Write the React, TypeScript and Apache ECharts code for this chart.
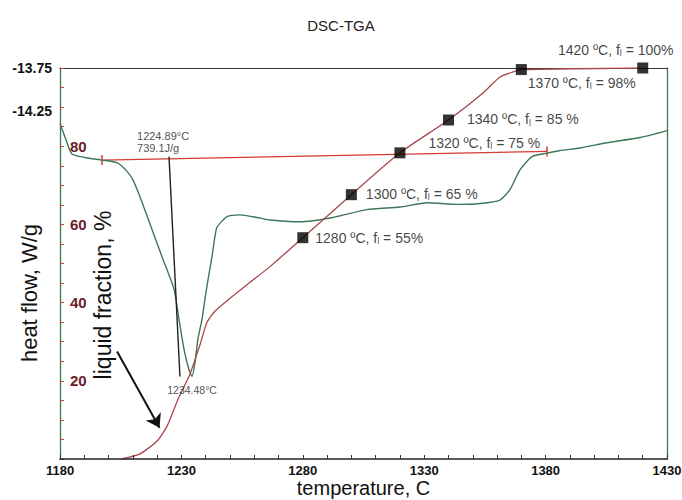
import React, { useEffect, useRef } from 'react';
import * as echarts from 'echarts';

const FONT = '"Liberation Sans", Arial, Helvetica, sans-serif';
const GREEN = '#3f7656';
const BROWN_RED = '#a8474b';
const RED = '#d23a34';
const MAROON = '#6b1d2b';

const title = 'DSC-TGA';
const xMin = 1180;
const xMax = 1430;
const xTickLabels = [1180, 1230, 1280, 1330, 1380, 1430];
const fractionTickLabels = [20, 40, 60, 80];
const heatFlowTickLabels = [-13.75, -14.25];

// DSC heat flow curve (W/g)
const heatFlowT = [1180, 1182.5, 1184.9, 1190.3, 1197.3, 1203.5, 1207.6, 1210.1, 1212.9, 1217.9, 1222.4, 1227.0, 1229.0, 1231.1, 1233.1, 1234.4, 1235.6, 1236.8, 1238.5, 1239.7, 1241.0, 1242.6, 1243.8, 1244.7, 1248.8, 1254.1, 1261.1, 1266.5, 1278.8, 1292.4, 1306.4, 1320.0, 1331.2, 1343.5, 1353.0, 1361.2, 1365.3, 1369.5, 1374.4, 1380.6, 1386.0, 1394.2, 1405.3, 1418.9, 1430];
const heatFlowW = [-14.39, -14.58, -14.74, -14.78, -14.81, -14.84, -14.94, -15.04, -15.23, -15.61, -15.95, -16.30, -16.64, -16.99, -17.22, -17.30, -17.14, -16.87, -16.64, -16.41, -16.18, -15.92, -15.69, -15.58, -15.46, -15.44, -15.47, -15.50, -15.52, -15.47, -15.38, -15.35, -15.30, -15.32, -15.31, -15.27, -15.15, -14.92, -14.77, -14.73, -14.70, -14.67, -14.61, -14.55, -14.47];

// liquid fraction curve (%)
const fractionT = [1205.5, 1212.9, 1220.0, 1224.1, 1228.6, 1233.5, 1237.7, 1240.5, 1243.8, 1250.0, 1258.3, 1266.5, 1280, 1300, 1320, 1340, 1354.2, 1361.2, 1366.6, 1370, 1420];
const fractionF = [0, 1.3, 4.6, 8.4, 15.3, 21.7, 29.3, 34.9, 37.8, 41.1, 45.2, 49.2, 56.6, 67.6, 78.3, 86.7, 93.6, 97.7, 99.0, 99.6, 100];

// labelled points
const markerT = [1280, 1300, 1320, 1340, 1370, 1420];
const markerF = [56.6, 67.6, 78.3, 86.7, 99.6, 100];
const markerLabelF = ['55%', '65 %', '75 %', '85 %', '98%', '100%'];

// DSC baseline and peak line (W/g)
const baselineT = [1197.3, 1380.6];
const baselineW = [-14.81, -14.71];
const peakLineT = [1224.9, 1229.4];
const peakLineW = [-14.77, -17.30];
const peakLabel = ['1224.89°C', '739.1J/g'];
const minLabel = '1234.48°C';

// arrow (liquid fraction axis)
const arrowT = [1203.5, 1221.0];
const arrowF = [27.5, 8.0];

const markerLabelOffsets: [number, number][] = [
  [2, 0],
  [4, -1],
  [18, -10],
  [8, -1],
  [-4, 13],
  [-27, 0],
];
const markerLabelPositions = ['right', 'right', 'right', 'right', 'right', 'top'];

export default function App() {
  const ref = useRef<HTMLDivElement>(null);

  useEffect(() => {
    document.body.style.margin = '0';
    if (!ref.current) return;
    const chart = echarts.init(ref.current, undefined, { renderer: 'svg' });

    const minIdx = heatFlowW.indexOf(Math.min(...heatFlowW));

    const option: any = {
      animation: false,
      backgroundColor: '#ffffff',
      title: {
        text: title,
        left: 'center',
        top: 13,
        textStyle: { fontFamily: FONT, fontSize: 15, fontWeight: 'normal', color: '#222' },
      },
      grid: {
        left: 60,
        right: 15,
        top: 68,
        bottom: 41,
        containLabel: false,
        outerBoundsMode: 'none',
      },
      xAxis: [
        {
          type: 'value',
          position: 'bottom',
          min: xMin,
          max: xMax,
          interval: 10,
          name: 'temperature, C',
          nameLocation: 'middle',
          nameGap: 19,
          nameMoveOverlap: false,
          nameTextStyle: { fontFamily: FONT, fontSize: 20, color: '#111' },
          axisLine: { show: true, onZero: false, lineStyle: { color: '#222', width: 1.5 } },
          axisTick: { show: true, inside: true, length: 4, lineStyle: { color: '#333', width: 1 } },
          axisLabel: {
            margin: 5,
            fontFamily: FONT,
            fontSize: 13,
            fontWeight: 'bold',
            color: '#111',
            formatter: (v: number) => (xTickLabels.includes(v) ? String(v) : ''),
          },
          splitLine: { show: false },
          z: 10,
        },
        {
          type: 'value',
          min: xMin,
          max: xMax,
          position: 'top',
          axisLine: { show: true, onZero: false, lineStyle: { color: '#333', width: 1.2 } },
          axisTick: { show: false },
          axisLabel: { show: false },
          splitLine: { show: false },
        },
      ],
      yAxis: [
        {
          type: 'value',
          min: 0,
          max: 100,
          interval: 5,
          position: 'left',
          axisLine: { show: true, onZero: false, lineStyle: { color: GREEN, width: 1.3 } },
          axisTick: { show: true, inside: true, length: 4, lineStyle: { color: RED } },
          axisLabel: {
            inside: true,
            margin: 10,
            fontFamily: FONT,
            fontSize: 15,
            fontWeight: 'bold',
            color: MAROON,
            formatter: (v: number) => (fractionTickLabels.includes(v) ? String(v) : ''),
          },
          splitLine: { show: false },
        },
        {
          type: 'value',
          min: -18.25,
          max: -13.75,
          interval: 0.25,
          position: 'left',
          axisLine: { show: false, onZero: false },
          axisTick: { show: false },
          axisLabel: {
            margin: 8,
            fontFamily: FONT,
            fontSize: 14,
            fontWeight: 'bold',
            color: '#111',
            formatter: (v: number) =>
              heatFlowTickLabels.some((t) => Math.abs(t - v) < 1e-6) ? v.toFixed(2) : '',
          },
          splitLine: { show: false },
        },
        {
          type: 'value',
          min: 0,
          max: 100,
          position: 'right',
          axisLine: { show: true, onZero: false, lineStyle: { color: GREEN, width: 1.3 } },
          axisTick: { show: false },
          axisLabel: { show: false },
          splitLine: { show: false },
        },
      ],
      series: [
        {
          name: 'heat flow',
          type: 'line',
          xAxisIndex: 0,
          yAxisIndex: 1,
          data: heatFlowT.map((t, i) => [t, heatFlowW[i]]),
          symbol: 'none',
          smooth: 0.2,
          lineStyle: { color: GREEN, width: 1.4 },
          silent: true,
          z: 3,
        },
        {
          name: 'DSC baseline',
          type: 'line',
          xAxisIndex: 0,
          yAxisIndex: 1,
          data: baselineT.map((t, i) => [t, baselineW[i]]),
          symbol: 'rect',
          symbolSize: [1.5, 10],
          showSymbol: true,
          itemStyle: { color: RED },
          lineStyle: { color: RED, width: 1.2 },
          silent: true,
          z: 2,
        },
        {
          name: 'peak line',
          type: 'line',
          xAxisIndex: 0,
          yAxisIndex: 1,
          data: peakLineT.map((t, i) => [t, peakLineW[i]]),
          symbol: 'none',
          lineStyle: { color: '#222', width: 1.4 },
          silent: true,
          z: 4,
        },
        {
          name: 'liquid fraction',
          type: 'line',
          xAxisIndex: 0,
          yAxisIndex: 0,
          data: fractionT.map((t, i) => [t, fractionF[i]]),
          symbol: 'none',
          smooth: 0.2,
          lineStyle: { color: BROWN_RED, width: 1.3 },
          silent: true,
          z: 4,
          markLine: {
            silent: true,
            symbol: ['none', 'arrow'],
            symbolSize: 13,
            label: { show: false },
            lineStyle: { color: '#111', width: 2, type: 'solid' },
            data: [
              [
                { coord: [arrowT[0], arrowF[0]] },
                { coord: [arrowT[1], arrowF[1]] },
              ],
            ],
          },
        },
        {
          name: 'markers',
          type: 'scatter',
          xAxisIndex: 0,
          yAxisIndex: 0,
          symbol: 'rect',
          symbolSize: 11,
          itemStyle: { color: '#000' },
          silent: true,
          z: 6,
          data: markerT.map((t, i) => ({
            value: [t, markerF[i]],
            label: {
              show: true,
              position: markerLabelPositions[i],
              distance: 5,
              offset: markerLabelOffsets[i],
              formatter: `{a|${t} ºC, f}{s|l}{a| = ${markerLabelF[i]}}`,
              rich: {
                a: { fontFamily: FONT, fontSize: 14, lineHeight: 16, color: '#111' },
                s: { fontFamily: FONT, fontSize: 9, lineHeight: 6, color: '#111', verticalAlign: 'bottom' },
              },
            },
          })),
        },
        {
          name: 'annotations',
          type: 'scatter',
          xAxisIndex: 0,
          yAxisIndex: 1,
          symbolSize: 1,
          itemStyle: { color: 'rgba(0,0,0,0)' },
          silent: true,
          z: 7,
          data: [
            {
              value: [peakLineT[0], peakLineW[0]],
              label: {
                show: true,
                position: 'top',
                distance: 2,
                align: 'left',
                offset: [-32, 0],
                formatter: peakLabel.join('\n'),
                fontFamily: FONT,
                fontSize: 11,
                lineHeight: 12,
                color: '#222',
              },
            },
            {
              value: [heatFlowT[minIdx], heatFlowW[minIdx]],
              label: {
                show: true,
                position: 'bottom',
                distance: 8,
                formatter: minLabel,
                fontFamily: FONT,
                fontSize: 10.5,
                color: '#222',
              },
            },
          ],
        },
      ],
      graphic: [
        {
          type: 'text',
          x: 29,
          y: 293,
          rotation: Math.PI / 2,
          style: {
            text: 'heat flow, W/g',
            font: `22px ${FONT}`,
            fill: '#111',
            textAlign: 'center',
            textVerticalAlign: 'middle',
          },
        },
        {
          type: 'text',
          x: 103,
          y: 295,
          rotation: Math.PI / 2,
          style: {
            text: 'liquid fraction, %',
            font: `23px ${FONT}`,
            fill: '#111',
            textAlign: 'center',
            textVerticalAlign: 'middle',
          },
        },
      ],
    };

    chart.setOption(option);
    return () => chart.dispose();
  }, []);

  return <div ref={ref} style={{ width: 682, height: 500 }} />;
}
